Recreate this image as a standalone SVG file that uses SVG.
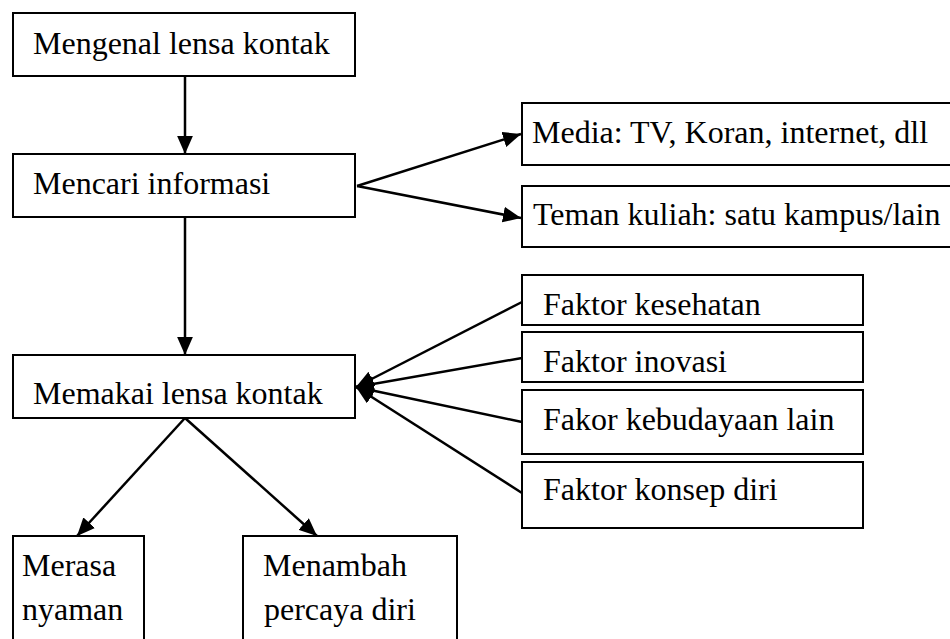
<svg xmlns="http://www.w3.org/2000/svg" width="950" height="639" viewBox="0 0 950 639" font-family="'Liberation Serif', 'Times New Roman', Times, serif">
<style>
  .box { fill: #ffffff; stroke: #000000; stroke-width: 2; }
  .lbl { font-family: 'Liberation Serif', 'Times New Roman', Times, serif; font-size: 32px; fill: #000000; }
  .conn { stroke: #000000; stroke-width: 2.5; fill: none; marker-end: url(#arrow); }
</style>
<defs>
  <marker id="arrow" markerUnits="userSpaceOnUse" markerWidth="18" markerHeight="16" viewBox="0 0 16 14" refX="16" refY="7" orient="auto">
    <path d="M0,0 L16,7 L0,14 Z" fill="#000000"/>
  </marker>
</defs>
<rect width="950" height="639" fill="#ffffff"/>
<g id="connectors">
  <line class="conn" x1="185" y1="76" x2="185" y2="154"/>
  <line class="conn" x1="185" y1="217" x2="185" y2="355"/>
  <line class="conn" x1="357" y1="186" x2="521" y2="134"/>
  <line class="conn" x1="357" y1="186" x2="521" y2="218"/>
  <line class="conn" x1="522" y1="302" x2="356" y2="387"/>
  <line class="conn" x1="522" y1="358" x2="356" y2="387"/>
  <line class="conn" x1="522" y1="422" x2="356" y2="387"/>
  <line class="conn" x1="522" y1="493" x2="356" y2="387"/>
  <line class="conn" x1="185" y1="418" x2="77" y2="536"/>
  <line class="conn" x1="185" y1="418" x2="317" y2="536"/>
</g>
<g id="mengenal">
  <rect class="box" x="13" y="13" width="342" height="63"/>
  <text class="lbl" x="33" y="54" font-family="Liberation Serif, serif">Mengenal lensa kontak</text>
</g>
<g id="mencari">
  <rect class="box" x="13" y="154" width="342" height="63"/>
  <text class="lbl" x="33" y="194" font-family="Liberation Serif, serif">Mencari informasi</text>
</g>
<g id="memakai">
  <rect class="box" x="13" y="355" width="342" height="63"/>
  <text class="lbl" x="33" y="404" font-family="Liberation Serif, serif">Memakai lensa kontak</text>
</g>
<g id="media">
  <rect class="box" x="522" y="103" width="432" height="62"/>
  <text class="lbl" x="532" y="143" font-family="Liberation Serif, serif">Media: TV, Koran, internet, dll</text>
</g>
<g id="teman">
  <rect class="box" x="522" y="186" width="432" height="61"/>
  <text class="lbl" x="533" y="225" font-family="Liberation Serif, serif">Teman kuliah: satu kampus/lain</text>
</g>
<g id="kesehatan">
  <rect class="box" x="522" y="275" width="341" height="50"/>
  <text class="lbl" x="543" y="315" font-family="Liberation Serif, serif">Faktor kesehatan</text>
</g>
<g id="inovasi">
  <rect class="box" x="522" y="332" width="341" height="50"/>
  <text class="lbl" x="543" y="372" font-family="Liberation Serif, serif">Faktor inovasi</text>
</g>
<g id="kebudayaan">
  <rect class="box" x="522" y="390" width="341" height="64"/>
  <text class="lbl" x="543" y="430" font-family="Liberation Serif, serif">Fakor kebudayaan lain</text>
</g>
<g id="konsep">
  <rect class="box" x="522" y="462" width="341" height="66"/>
  <text class="lbl" x="543" y="500" font-family="Liberation Serif, serif">Faktor konsep diri</text>
</g>
<g id="merasa">
  <rect class="box" x="13" y="536" width="131" height="110"/>
  <text class="lbl" x="22" y="576" font-family="Liberation Serif, serif">Merasa</text>
  <text class="lbl" x="22" y="620" font-family="Liberation Serif, serif">nyaman</text>
</g>
<g id="menambah">
  <rect class="box" x="243" y="536" width="214" height="110"/>
  <text class="lbl" x="263" y="576" font-family="Liberation Serif, serif">Menambah</text>
  <text class="lbl" x="264" y="620" font-family="Liberation Serif, serif">percaya diri</text>
</g>
</svg>
